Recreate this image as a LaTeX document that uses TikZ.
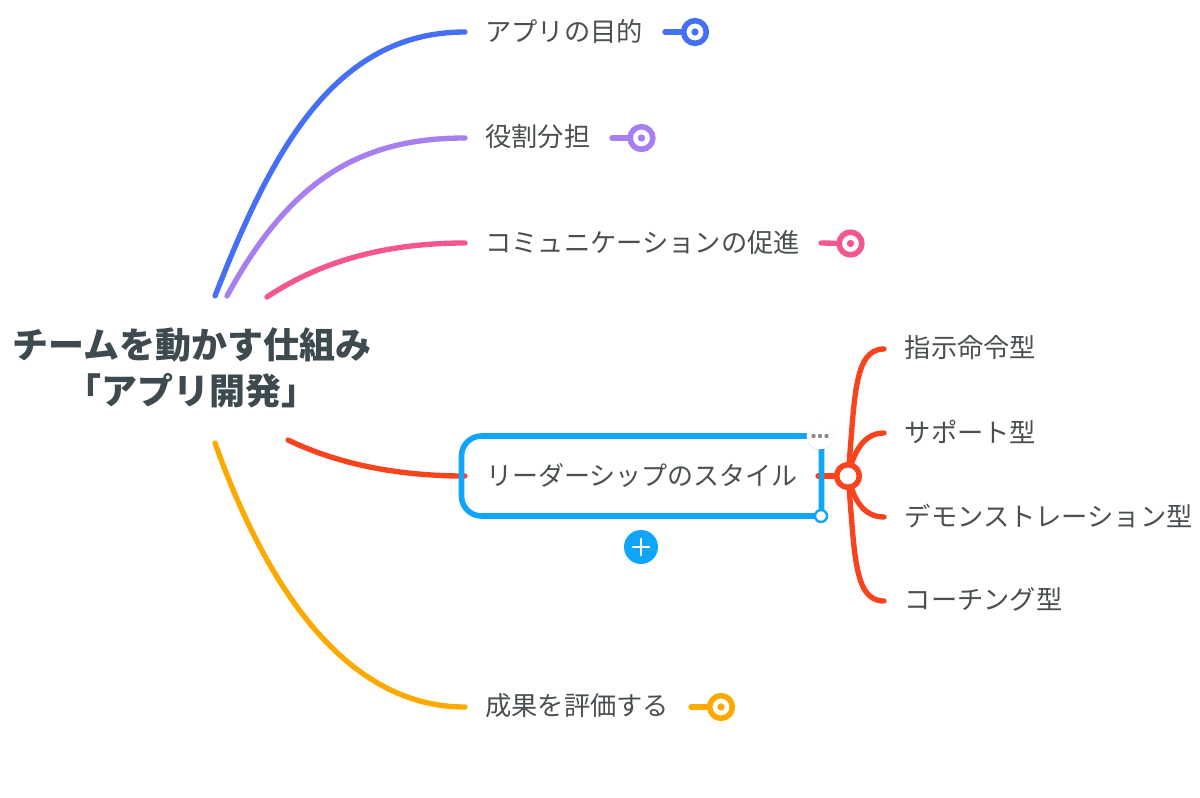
\documentclass[tikz,border=0pt]{standalone}
\usepackage{fontspec}
\setmainfont{Noto Sans CJK JP}
\usetikzlibrary{shadows,calc}
\definecolor{cblue}{HTML}{4570F5}
\definecolor{cpurple}{HTML}{A77FEE}
\definecolor{cpink}{HTML}{F4568F}
\definecolor{cred}{HTML}{F9431C}
\definecolor{cyellow}{HTML}{FDAA00}
\definecolor{cbox}{HTML}{0EA5FB}
\definecolor{ctext}{HTML}{4A4F52}
\definecolor{ctitle}{HTML}{3D4A4F}
\tikzset{
  x=0.75pt,y=-0.75pt,
  link/.style={line width=4pt,line cap=round},
  linktext/.style={anchor=west,inner sep=0pt,text=ctext,font=\fontsize{19.7}{24}\selectfont},
  ring/.style={circle,draw=#1,fill=white,line width=4.2pt,inner sep=0pt,minimum size=17pt},
  dotmark/.style={circle,fill=#1,inner sep=0pt,minimum size=5.5pt}
}
\begin{document}
\begin{tikzpicture}
\useasboundingbox (0,0) rectangle (1200,797);
\fill[white] (0,0) rectangle (1200,797);

\node[align=center,inner sep=0pt,text=ctitle,font=\fontsize{27}{35}\bfseries\selectfont] (root) at (192,368) {チームを動かす仕組み\\「アプリ開発」};

\coordinate (sb) at (215,296);
\coordinate (sp) at (227,296);
\coordinate (si) at (267,297);
\coordinate (sr) at (288,440);
\coordinate (sy) at (215,443);

\coordinate (eb) at (465,32);
\coordinate (ep) at (465,138);
\coordinate (ei) at (465,243);
\coordinate (er) at (465,476);
\coordinate (ey) at (465,707);

\draw[link,cblue] (sb) .. controls (272,150) and (335,32) .. (eb);
\draw[link,cpurple] (sp) .. controls (290,180) and (360,138) .. (ep);
\draw[link,cpink] (si) .. controls (330,255) and (400,243) .. (ei);
\draw[link,cred] (sr) .. controls (340,465) and (400,476) .. (er);
\draw[link,cyellow] (sy) .. controls (262,575) and (340,707) .. (ey);

\node[linktext] (n1) at (485,31) {アプリの目的};
\node[linktext] (n2) at (485,137) {役割分担};
\node[linktext] (n3) at (485,242.5) {コミュニケーションの促進};
\node[linktext] (n5) at (485,706) {成果を評価する};

% collapsed markers
\coordinate (s1) at (665,32);
\coordinate (s2) at (612,138);
\coordinate (s3) at (821,243);
\coordinate (s5) at (691,707);
\node[ring=cblue] (m1) at (695,32) {};
\node[ring=cpurple] (m2) at (641.5,138) {};
\node[ring=cpink] (m3) at (850.5,243.5) {};
\node[ring=cyellow] (m5) at (721,707) {};
\draw[link,cblue] (s1) -- (m1);
\draw[link,cpurple] (s2) -- (m2);
\draw[link,cpink] (s3) -- (m3);
\draw[link,cyellow] (s5) -- (m5);
\node[dotmark=cblue] at (m1) {};
\node[dotmark=cpurple] at (m2) {};
\node[dotmark=cpink] at (m3) {};
\node[dotmark=cyellow] at (m5) {};

% selected topic
\draw[line width=4.2pt,cbox] (821.5,436) [rounded corners=15pt] -- (461.5,436) -- (461.5,516) [sharp corners] -- (821.5,516) -- cycle;
\node[linktext,font=\fontsize{19.5}{24}\selectfont] (n4) at (486,475) {リーダーシップのスタイル};

% right branch
\coordinate (c1) at (884,349);
\coordinate (c2) at (884,433);
\coordinate (c3) at (884,517);
\coordinate (c4) at (884,601);
\coordinate (hubc) at (848,476);
\coordinate (st) at (818,476);
\draw[link,cred] (hubc) .. controls (855,400) and (853,349) .. (c1);
\draw[link,cred] (hubc) .. controls (853,455) and (862,433) .. (c2);
\draw[link,cred] (hubc) .. controls (853,497) and (862,517) .. (c3);
\draw[link,cred] (hubc) .. controls (855,552) and (853,601) .. (c4);
\draw[link,cred] (st) -- (hubc);
\draw[line width=4.2pt,cbox] (821.5,452) -- (821.5,510);
\node[ring=cred] (hub) at (hubc) {};

\node[linktext] (t1) at (904.5,347.5) {指示命令型};
\node[linktext] (t2) at (904.5,432) {サポート型};
\node[linktext] (t3) at (904.5,516) {デモンストレーション型};
\node[linktext] (t4) at (904.5,599.5) {コーチング型};

% controls
\node[circle,fill=white,inner sep=0pt,minimum size=20pt,drop shadow={shadow xshift=0pt,shadow yshift=-0.5pt,opacity=0.12,fill=black}] (more) at (820,436) {};
\foreach \dx in {-6.5,0,6.5}{
  \fill[gray!90] ($(more)+(\dx,0)$) circle (2.2);
}
\node[circle,draw=cbox,fill=white,line width=1.8pt,inner sep=0pt,minimum size=9pt] (handle) at (821,516) {};
\node[circle,fill=cbox,inner sep=0pt,minimum size=25.5pt] (plus) at (641,547) {};
\draw[white,line width=2.2pt,line cap=round] ($(plus)+(-8,0)$) -- ($(plus)+(8,0)$);
\draw[white,line width=2.2pt,line cap=round] ($(plus)+(0,-8)$) -- ($(plus)+(0,8)$);
\end{tikzpicture}
\end{document}
